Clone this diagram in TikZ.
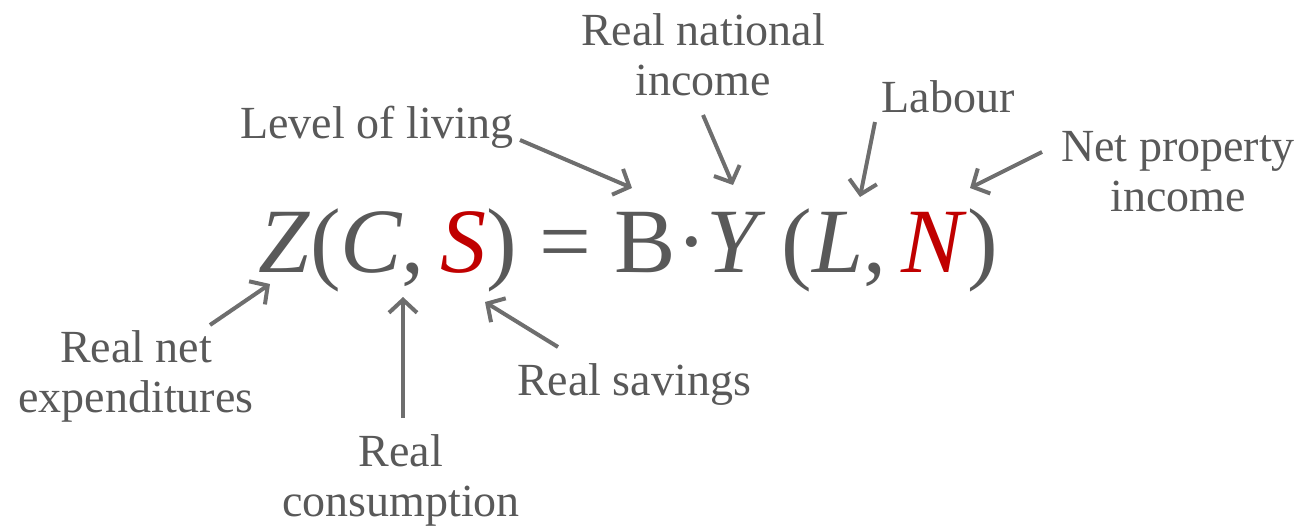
\documentclass[tikz,border=0pt]{standalone}
\usepackage{fontspec}
\setmainfont{Liberation Serif}
\usetikzlibrary{arrows.meta}
\definecolor{txtgray}{RGB}{89,89,89}
\definecolor{arrgray}{RGB}{110,110,110}
\definecolor{eqred}{RGB}{192,0,0}

\begin{document}
\begin{tikzpicture}[x=1pt, y=-1pt,
    lbl/.style={text=txtgray, align=center, inner sep=0pt, font=\fontsize{46}{50}\selectfont},
    ptr/.style={draw=arrgray, line width=4pt, -{Straight Barb[length=13pt, width=28pt]}}
]
\useasboundingbox (0,0) rectangle (1307,528);

% Equation
\node[text=txtgray, inner sep=0pt, anchor=base, font=\fontsize{92}{92}\selectfont] (eq) at (628,272)
    {\textit{Z}(\textit{C},\,\textcolor{eqred}{\textit{S}}) = B·\textit{Y}\,(\textit{L},\,\textcolor{eqred}{\textit{N}})};

% Labels
\node[lbl] (natinc) at (703,55) {Real national\\income};
\node[lbl] (labour) at (948,97) {Labour};
\node[lbl] (living) at (377,127) {Level of living};
\node[lbl] (netprop) at (1178,172) {Net property\\income};
\node[lbl] (netexp) at (136,376) {Real net\\expenditures};
\node[lbl] (savings) at (634,384) {Real savings};
\node[lbl] (cons) at (401,480) {Real\\consumption};

% Arrow heads on the equation
\coordinate (atB) at (632,188);
\coordinate (atY) at (733,185);
\coordinate (atL) at (860,197);
\coordinate (atN) at (970,188);
\coordinate (atZ) at (270,284);
\coordinate (atC) at (403,297);
\coordinate (atS) at (485,302);

% Arrows
\draw[ptr] ([shift={(143,13)}]living.center) -- (atB);
\draw[ptr] ([shift={(0,60)}]natinc.center) -- (atY);
\draw[ptr] ([shift={(-73,25)}]labour.center) -- (atL);
\draw[ptr] ([shift={(-136,-20)}]netprop.center) -- (atN);
\draw[ptr] ([shift={(74,-51)}]netexp.center) -- (atZ);
\draw[ptr] ([shift={(2,-62)}]cons.center) -- (atC);
\draw[ptr] ([shift={(-76,-37)}]savings.center) -- (atS);

\end{tikzpicture}
\end{document}
